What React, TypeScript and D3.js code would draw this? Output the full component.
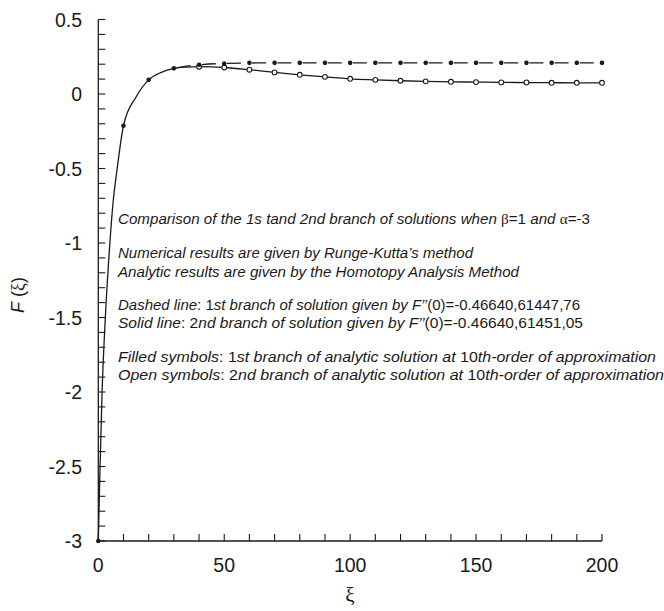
import React from 'react';
import * as d3 from 'd3';

const xTickValues = [0, 50, 100, 150, 200];
const xTickLabels = ['0', '50', '100', '150', '200'];
const xMinorTicks = [0, 10, 20, 30, 40, 50, 60, 70, 80, 90, 100, 110, 120, 130, 140, 150, 160, 170, 180, 190, 200];
const yTickValues = [0.5, 0, -0.5, -1, -1.5, -2, -2.5, -3];
const yTickLabels = ['0.5', '0', '-0.5', '-1', '-1.5', '-2', '-2.5', '-3'];
const yMinorTicks = [0.5, 0.4, 0.3, 0.2, 0.1, 0, -0.1, -0.2, -0.3, -0.4, -0.5, -0.6, -0.7, -0.8, -0.9, -1, -1.1, -1.2, -1.3, -1.4, -1.5, -1.6, -1.7, -1.8, -1.9, -2, -2.1, -2.2, -2.3, -2.4, -2.5, -2.6, -2.7, -2.8, -2.9, -3];

// Solid line (2nd branch, numerical)
const solidXi = [0, 0.7, 1.5, 2.8, 4.6, 5.8, 7.5, 10, 15, 20, 25, 30, 35, 40, 50, 60, 70, 80, 90, 100, 110, 120, 130, 140, 150, 160, 170, 180, 190, 200];
const solidF = [-3, -2.5, -2.0, -1.5, -1.0, -0.74, -0.5, -0.213, -0.02, 0.095, 0.145, 0.172, 0.181, 0.184, 0.178, 0.163, 0.145, 0.129, 0.115, 0.102, 0.095, 0.089, 0.085, 0.082, 0.080, 0.078, 0.077, 0.076, 0.075, 0.075];
// Dashed line (1st branch, numerical)
const dashedXi = [30, 35, 40, 50, 60, 70, 80, 90, 100, 110, 120, 130, 140, 150, 160, 170, 180, 190, 200];
const dashedF = [0.172, 0.187, 0.196, 0.205, 0.208, 0.209, 0.209, 0.209, 0.209, 0.209, 0.209, 0.209, 0.209, 0.209, 0.209, 0.209, 0.209, 0.209, 0.209];

// Filled symbols (1st branch, HAM)
const filledXi = [0, 10, 20, 30, 40, 50, 60, 70, 80, 90, 100, 110, 120, 130, 140, 150, 160, 170, 180, 190, 200];
const filledF = [-3, -0.213, 0.095, 0.172, 0.196, 0.205, 0.209, 0.209, 0.209, 0.209, 0.209, 0.209, 0.209, 0.209, 0.209, 0.209, 0.209, 0.209, 0.209, 0.209, 0.209];
// Open symbols (2nd branch, HAM)
const openXi = [40, 50, 60, 70, 80, 90, 100, 110, 120, 130, 140, 150, 160, 170, 180, 190, 200];
const openF = [0.183, 0.178, 0.163, 0.145, 0.129, 0.115, 0.102, 0.095, 0.089, 0.085, 0.082, 0.080, 0.078, 0.078, 0.075, 0.075, 0.075];

const W = 664;
const H = 611;
const SANS = "'Liberation Sans', Arial, Helvetica, sans-serif";
const SERIF = "'Liberation Serif', 'Times New Roman', serif";

export default function App() {
  const x = d3.scaleLinear().domain([0, 200]).range([98.3, 602]);
  const y = d3.scaleLinear().domain([-3, 0.5]).range([541, 19.5]);

  const line = d3
    .line<[number, number]>()
    .x((d) => x(d[0]))
    .y((d) => y(d[1]))
    .curve(d3.curveMonotoneX);

  const solidPath = line(solidXi.map((v, i) => [v, solidF[i]]) as [number, number][]) || '';
  const dashedPath = line(dashedXi.map((v, i) => [v, dashedF[i]]) as [number, number][]) || '';

  const ink = '#1a1a1a';
  const tx = 118;
  const annFs = 15;
  const it = { fontStyle: 'italic' as const };
  const adj = 'spacingAndGlyphs';

  return (
    <svg width={W} height={H} style={{ position: 'absolute', left: 0, top: 0, background: '#fff' }} fontFamily={SANS}>
      <rect x={0} y={0} width={W} height={H} fill="#fff" />
      {/* curves */}
      <path d={solidPath} fill="none" stroke={ink} strokeWidth={1.3} />
      <path d={dashedPath} fill="none" stroke={ink} strokeWidth={1.3} strokeDasharray="14,11.2" strokeDashoffset={-3} />

      {/* axes */}
      <line x1={x(0)} x2={x(200)} y1={y(-3)} y2={y(-3)} stroke={ink} strokeWidth={1.3} />
      <line x1={x(0)} x2={x(0)} y1={y(-3)} y2={y(0.5)} stroke={ink} strokeWidth={1.3} />
      {xMinorTicks.map((t) => (
        <line key={'xt' + t} x1={x(t)} x2={x(t)} y1={y(-3)} y2={y(-3) - 7} stroke={ink} strokeWidth={1.1} />
      ))}
      {yMinorTicks.map((t) => (
        <line key={'yt' + t} x1={x(0)} x2={x(0) + 7} y1={y(t)} y2={y(t)} stroke={ink} strokeWidth={1.1} />
      ))}
      {xTickValues.map((t, i) => (
        <text key={'xl' + t} x={x(t)} y={572} textAnchor="middle" fontSize={19.5} fill={ink}>
          {xTickLabels[i]}
        </text>
      ))}
      {yTickValues.map((t, i) => (
        <text key={'yl' + t} x={82} y={y(t) + 7} textAnchor="end" fontSize={19.5} fill={ink}>
          {yTickLabels[i]}
        </text>
      ))}

      {/* markers */}
      {openXi.map((v, i) => (
        <circle key={'o' + v} cx={x(v)} cy={y(openF[i])} r={2.4} fill="#fff" stroke={ink} strokeWidth={1.1} />
      ))}
      {filledXi.map((v, i) => (
        <circle key={'f' + v} cx={x(v)} cy={y(filledF[i])} r={2.3} fill={ink} />
      ))}

      {/* axis titles */}
      <text x={350} y={602} textAnchor="middle" fontSize={21} fontFamily={SERIF} fill={ink}>ξ</text>
      <text transform="translate(24,295) rotate(-90)" textAnchor="middle" fontSize={18} fill={ink}>
        <tspan fontStyle="italic">F</tspan>
        <tspan> (</tspan>
        <tspan fontFamily={SERIF}>ξ</tspan>
        <tspan>)</tspan>
      </text>

      {/* annotation */}
      <g fontSize={annFs} fill={ink}>
        <text x={tx} y={224} textLength={472} lengthAdjust={adj}>
          <tspan {...it}>Comparison of the 1s tand 2nd branch of solutions when </tspan>
          <tspan fontFamily={SERIF}>β</tspan>
          <tspan>=1 </tspan>
          <tspan {...it}>and </tspan>
          <tspan fontFamily={SERIF}>α</tspan>
          <tspan>=-3</tspan>
        </text>
        <text x={tx} y={258} textLength={355} lengthAdjust={adj}>
          <tspan {...it}>Numerical results are given by Runge-Kutta’s method</tspan>
        </text>
        <text x={tx} y={277} textLength={401} lengthAdjust={adj}>
          <tspan {...it}>Analytic results are given by the Homotopy Analysis Method</tspan>
        </text>
        <text x={tx} y={310} textLength={462} lengthAdjust={adj}>
          <tspan {...it}>Dashed line</tspan>
          <tspan>: 1</tspan>
          <tspan {...it}>st branch of solution given by F’’</tspan>
          <tspan>(0)=-0.46640,61447,76</tspan>
        </text>
        <text x={tx} y={328} textLength={465} lengthAdjust={adj}>
          <tspan {...it}>Solid line</tspan>
          <tspan>: 2</tspan>
          <tspan {...it}>nd branch of solution given by F’’</tspan>
          <tspan>(0)=-0.46640,61451,05</tspan>
        </text>
        <text x={tx} y={362} textLength={538} lengthAdjust={adj}>
          <tspan {...it}>Filled symbols</tspan>
          <tspan>: 1</tspan>
          <tspan {...it}>st branch of analytic solution at </tspan>
          <tspan>10</tspan>
          <tspan {...it}>th-order of approximation</tspan>
        </text>
        <text x={tx} y={380} textLength={546} lengthAdjust={adj}>
          <tspan {...it}>Open symbols</tspan>
          <tspan>: 2</tspan>
          <tspan {...it}>nd branch of analytic solution at </tspan>
          <tspan>10</tspan>
          <tspan {...it}>th-order of approximation</tspan>
        </text>
      </g>
    </svg>
  );
}
